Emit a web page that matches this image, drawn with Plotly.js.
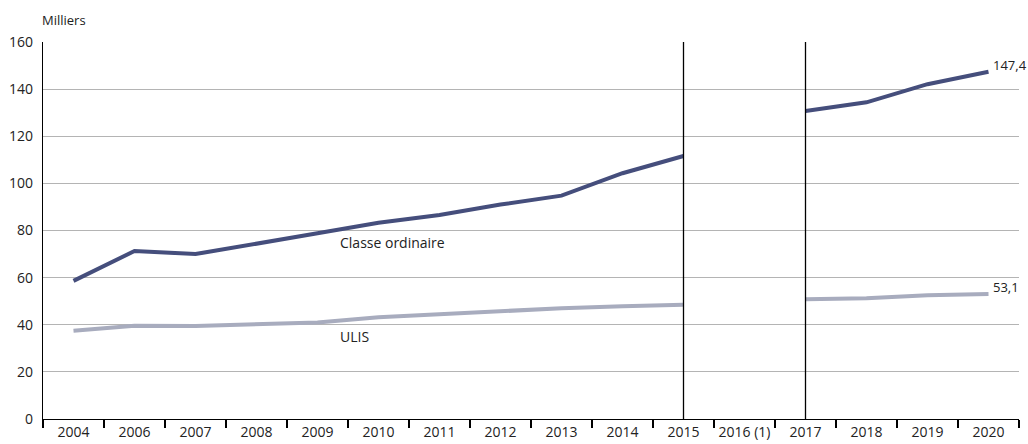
<!DOCTYPE html>
<html>
<head>
<meta charset="utf-8">
<script src="https://cdn.plot.ly/plotly-3.0.1.min.js"></script>
<style>html,body{margin:0;padding:0;background:#fff;}#chart{width:1028px;height:444px;}</style>
</head>
<body>
<div id="chart"></div>
<script>
const categories = ['2004','2006','2007','2008','2009','2010','2011','2012','2013','2014','2015','2016 (1)','2017','2018','2019','2020'];
const classeOrdinaire = [58.6, 71.3, 70.0, 74.6, 78.8, 83.3, 86.6, 91.0, 94.8, 104.3, 111.6, null, 130.7, 134.4, 142.1, 147.4];
const ulis = [37.5, 39.6, 39.5, 40.2, 41.0, 43.2, 44.6, 45.8, 47.0, 47.8, 48.5, null, 50.8, 51.2, 52.5, 53.1];
const yTicks = [0, 20, 40, 60, 80, 100, 120, 140, 160];
const breakYears = ['2015', '2017'];
const endLabels = ['147,4', '53,1'];

const font = 'Open Sans, sans-serif';
const traces = [
  {x: categories, y: ulis, type: 'scatter', mode: 'lines', line: {color: '#a8acbe', width: 4}, connectgaps: false, hoverinfo: 'skip'},
  {x: categories, y: classeOrdinaire, type: 'scatter', mode: 'lines', line: {color: '#454e7c', width: 4}, connectgaps: false, hoverinfo: 'skip'}
];
const shapes = breakYears.map(c => {
  const i = categories.indexOf(c);
  return {type: 'line', xref: 'x', yref: 'y', x0: i, x1: i, y0: 0, y1: 160, layer: 'above', line: {color: '#000', width: 1.3}};
});
const last = categories.length - 1;
const annotations = [
  {xref: 'paper', yref: 'paper', x: -0.003, y: 1.058, xanchor: 'left', yanchor: 'middle', text: 'Milliers', showarrow: false, font: {family: font, size: 13, color: '#222'}},
  {xref: 'x', yref: 'y', x: 4.33, y: 74.7, xanchor: 'left', yanchor: 'middle', text: 'Classe ordinaire', showarrow: false, font: {family: font, size: 14, color: '#222'}},
  {xref: 'x', yref: 'y', x: 4.33, y: 35.2, xanchor: 'left', yanchor: 'middle', text: 'ULIS', showarrow: false, font: {family: font, size: 14, color: '#222'}},
  {xref: 'x', yref: 'y', x: last, y: classeOrdinaire[last], xanchor: 'left', yanchor: 'bottom', xshift: 2, yshift: -4, text: endLabels[0], showarrow: false, font: {family: font, size: 13, color: '#222'}},
  {xref: 'x', yref: 'y', x: last, y: ulis[last], xanchor: 'left', yanchor: 'bottom', xshift: 2, yshift: -4, text: endLabels[1], showarrow: false, font: {family: font, size: 13, color: '#222'}}
];
const layout = {
  width: 1028, height: 444,
  margin: {l: 43, r: 9, t: 42, b: 25},
  paper_bgcolor: '#fff', plot_bgcolor: '#fff',
  showlegend: false,
  font: {family: font, size: 14, color: '#222'},
  xaxis: {type: 'category', range: [-0.5, 15.5], tickson: 'boundaries', ticks: 'outside', ticklen: 8, tickcolor: '#000', tickwidth: 1.3,
          tickangle: 0, showline: true, linecolor: '#000', linewidth: 1.3, showgrid: false, zeroline: false, automargin: false,
          tickfont: {family: font, size: 14, color: '#222'}, fixedrange: true},
  yaxis: {range: [0, 160], tickvals: yTicks, ticktext: yTicks.map(String), showline: true, linecolor: '#000', linewidth: 1.3,
          showgrid: true, gridcolor: '#b4b4b4', gridwidth: 1, zeroline: false, ticks: '', ticklabelstandoff: 6, automargin: false,
          tickfont: {family: font, size: 14, color: '#222'}, fixedrange: true},
  shapes: shapes,
  annotations: annotations
};
Plotly.newPlot('chart', traces, layout, {displayModeBar: false, staticPlot: true});
</script>
</body>
</html>
